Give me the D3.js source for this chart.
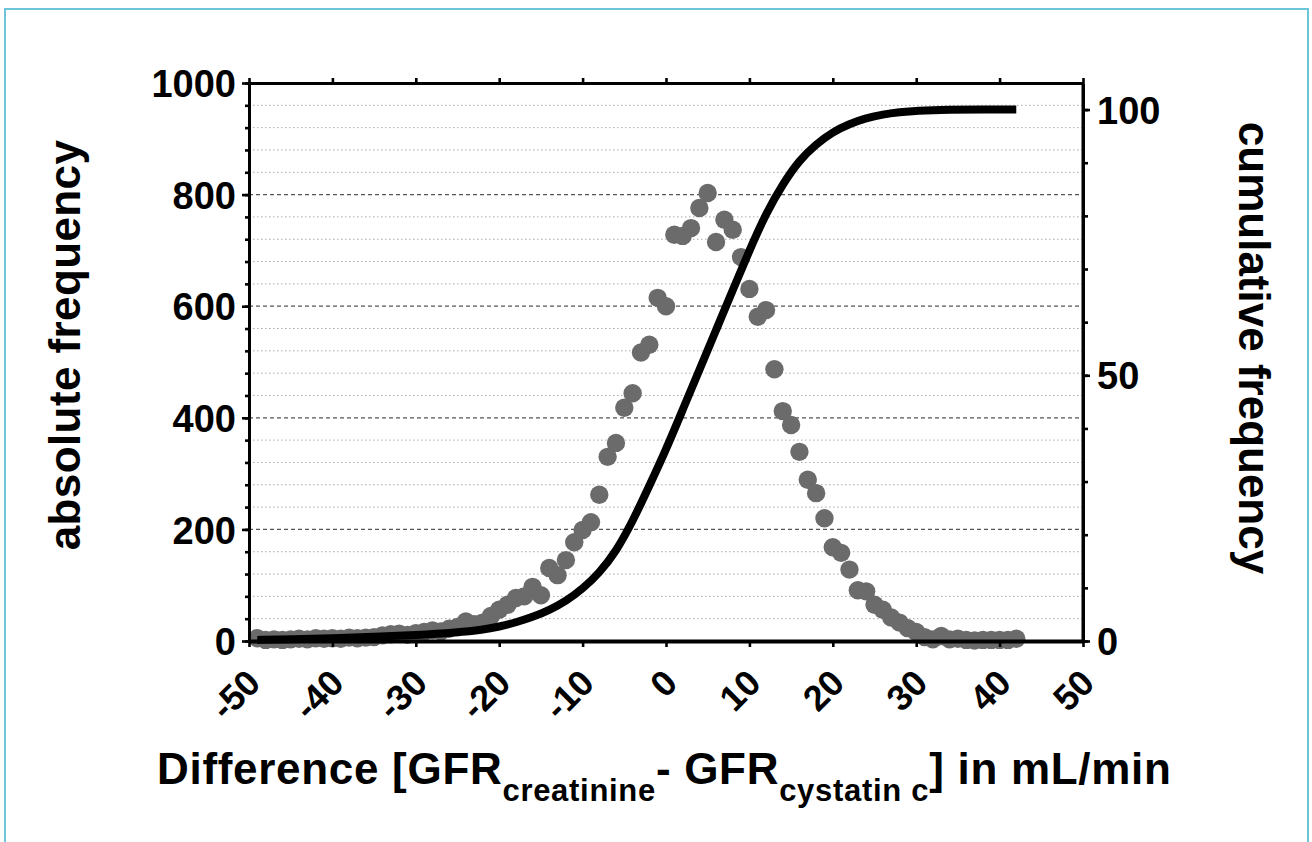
<!DOCTYPE html>
<html lang="en">
<head>
<meta charset="UTF-8">
<title>GFR difference distribution</title>
<style>
  body { margin: 0; background: #fff; }
  svg text { font-family: "Liberation Sans", Arial, sans-serif; font-weight: bold; fill: #000; }
</style>
</head>
<body>
<svg id="chart" width="1312" height="842"></svg>

<script src="https://cdn.jsdelivr.net/npm/d3@7/dist/d3.min.js"></script>
<script>

// difference in mL/min (bin centres) and absolute frequency of each bin
let diffs = [-49,-48,-47,-46,-45,-44,-43,-42,-41,-40,-39,-38,-37,-36,-35,-34,-33,-32,-31,-30,
             -29,-28,-27,-26,-25,-24,-23,-22,-21,-20,-19,-18,-17,-16,-15,-14,-13,-12,-11,-10,
             -9,-8,-7,-6,-5,-4,-3,-2,-1,0,1,2,3,4,5,6,7,8,9,10,
             11,12,13,14,15,16,17,18,19,20,21,22,23,24,25,26,27,28,29,30,
             31,32,33,34,35,36,37,38,39,40,41,42]
let counts = [5,2,3,2,3,4,3,5,4,5,4,6,5,6,7,10,12,13,11,14,
              16,19,17,22,25,35,30,33,45,56,65,77,80,97,82,131,118,145,177,199,
              213,262,330,355,418,444,517,531,615,600,728,726,740,776,803,715,755,737,688,631,
              581,593,487,412,387,339,289,265,220,168,158,128,91,89,65,56,42,33,23,16,
              7,3,9,3,4,2,1,2,2,2,2,4]

// cumulative frequency curve (percent)
let cumX = [-49,-45,-40,-35,-30,-25,-22,-20,-18,-16,-14,-12,-10,-8,-6,-4,-2,0,2,4,
            6,8,10,12,14,16,18,20,22,24,26,28,30,34,38,42]
let cumY = [0.2,0.3,0.5,0.8,1.1,1.6,2.1,2.7,3.5,4.5,5.8,7.5,9.8,12.8,16.8,22.5,29.2,36,43.5,51,
            58.5,66,73.5,80.5,86,90.5,93.5,95.8,97.3,98.4,99.1,99.5,99.8,100,100,100]

let xTicks = [-50,-40,-30,-20,-10,0,10,20,30,40,50]
let yTicks = [0,200,400,600,800,1000]
let yMinor = d3.range(0, 1001, 40)
let y2Ticks = [0,50,100]
let y2Minor = d3.range(0, 101, 10)

let svg = d3.select("#chart")

// outer frame
svg.append("rect")
    .attr("x", 5).attr("y", 9)
    .attr("width", 1303).attr("height", 860)
    .attr("fill", "none")
    .attr("stroke", "#6cc6d8")
    .attr("stroke-width", 2)

let x = d3.scaleLinear().domain([-50, 50]).range([249, 1083])
let y = d3.scaleLinear().domain([0, 1000]).range([641, 83])
let y2 = d3.scaleLinear().domain([0, 105]).range([641, 83])

let plain = d => String(d)

// grid lines
svg.append("g")
    .selectAll("line")
    .data(yMinor.filter(d => d > 0 && d < 1000))
    .join("line")
    .attr("x1", x(-50)).attr("x2", x(50))
    .attr("y1", d => y(d)).attr("y2", d => y(d))
    .attr("stroke", d => d % 200 == 0 ? "#555" : "#aaa")
    .attr("stroke-width", d => d % 200 == 0 ? 1.3 : 1)
    .attr("stroke-dasharray", d => d % 200 == 0 ? "4,3" : "1.5,2.5")

// dots
svg.append("g")
    .selectAll("circle")
    .data(diffs)
    .join("circle")
    .attr("cx", d => x(d))
    .attr("cy", (d, i) => y(counts[i]))
    .attr("r", 9.2)
    .attr("fill", "#6b6b6b")

// cumulative line
let line = d3.line()
    .x(d => x(d))
    .y((d, i) => y2(cumY[i]))
    .curve(d3.curveBasis)

svg.append("path")
    .datum(cumX)
    .attr("d", line)
    .attr("fill", "none")
    .attr("stroke", "#000")
    .attr("stroke-width", 8)
    .attr("stroke-linecap", "butt")

function styleAxis(g, width) {
    g.select(".domain").attr("stroke", "#000").attr("stroke-width", width)
    g.selectAll(".tick line").attr("stroke", "#000").attr("stroke-width", 2.6)
}

// top frame with ticks
svg.append("g")
    .attr("transform", "translate(0,83)")
    .call(d3.axisTop(x).tickValues(xTicks).tickSize(5).tickSizeOuter(0).tickFormat(""))
    .call(g => styleAxis(g, 3))

// left axis minor ticks
svg.append("g")
    .attr("transform", "translate(249,0)")
    .call(d3.axisLeft(y).tickValues(yMinor).tickSize(4).tickSizeOuter(0).tickFormat(""))
    .call(g => styleAxis(g, 3))

// left axis
svg.append("g")
    .attr("transform", "translate(249,0)")
    .call(d3.axisLeft(y).tickValues(yTicks).tickSize(7).tickSizeOuter(0).tickPadding(6).tickFormat(plain))
    .call(g => styleAxis(g, 3))
    .call(g => g.selectAll("text").attr("font-size", 38).attr("dy", "0.36em"))

// right axis minor ticks
svg.append("g")
    .attr("transform", "translate(1083,0)")
    .call(d3.axisRight(y2).tickValues(y2Minor).tickSize(5).tickSizeOuter(0).tickFormat(""))
    .call(g => styleAxis(g, 3))

// right axis
svg.append("g")
    .attr("transform", "translate(1083,0)")
    .call(d3.axisRight(y2).tickValues(y2Ticks).tickSize(7).tickSizeOuter(0).tickPadding(7).tickFormat(plain))
    .call(g => styleAxis(g, 3))
    .call(g => g.select(".domain").attr("d", "M0," + y(1000) + "V" + y(0)))
    .call(g => g.selectAll("text").attr("font-size", 38).attr("dy", "0.36em"))

// bottom axis
svg.append("g")
    .attr("transform", "translate(0,641)")
    .call(d3.axisBottom(x).tickValues(xTicks).tickSize(6).tickSizeOuter(0).tickFormat(plain))
    .call(g => styleAxis(g, 4))
    .call(g => g.selectAll("text")
        .attr("font-size", 36)
        .attr("text-anchor", "end")
        .attr("y", 0).attr("dy", 0)
        .attr("transform", "translate(13,44) rotate(-45)"))

// axis titles
svg.append("text")
    .attr("transform", "translate(80,345) rotate(-90)")
    .attr("text-anchor", "middle")
    .attr("font-size", 44)
    .attr("letter-spacing", 0.4)
    .text("absolute frequency")

svg.append("text")
    .attr("transform", "translate(1239,348) rotate(90)")
    .attr("text-anchor", "middle")
    .attr("font-size", 44)
    .attr("letter-spacing", 0)
    .text("cumulative frequency")

let title = svg.append("text")
    .attr("x", 157).attr("y", 784)
    .attr("font-size", 44)
    .attr("letter-spacing", 0.7)

title.append("tspan").text("Difference [GFR")
title.append("tspan").attr("font-size", 31).attr("dy", 17).text("creatinine")
title.append("tspan").attr("dy", -17).text("- GFR")
title.append("tspan").attr("font-size", 31).attr("dy", 17).text("cystatin c")
title.append("tspan").attr("dy", -17).text("] in mL/min")

</script>
</body>
</html>
